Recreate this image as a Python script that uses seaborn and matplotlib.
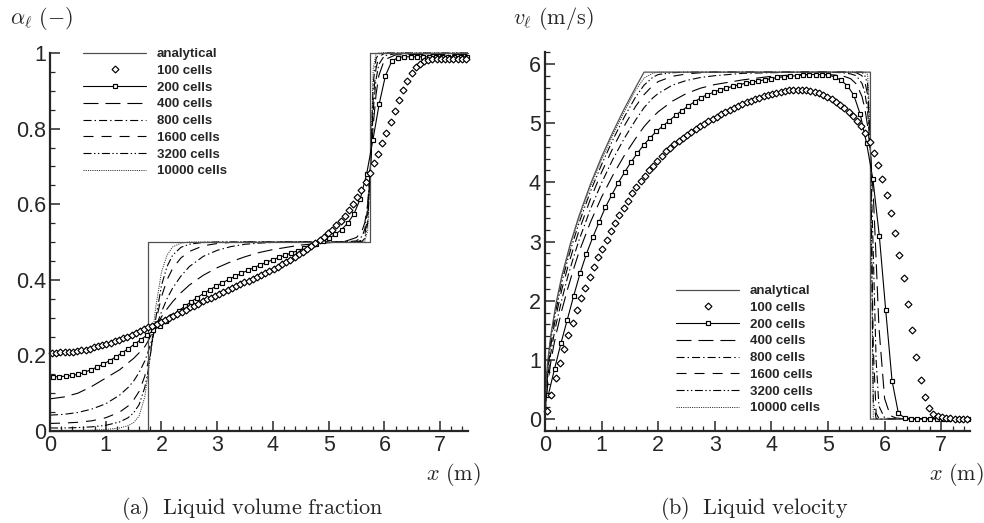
import numpy as np
import pandas as pd
import matplotlib
matplotlib.use("Agg")
import matplotlib.pyplot as plt
import seaborn as sns
from matplotlib.lines import Line2D
from matplotlib.ticker import MultipleLocator, FuncFormatter

# ---------------- data ----------------
labels = ["analytical", "100 cells", "200 cells", "400 cells", "800 cells",
          "1600 cells", "3200 cells", "10000 cells"]

# cell centres of the 100-cell grid and every third centre of the 200-cell grid
x_100 = 0.0375 + 0.075 * np.arange(100)
x_200 = 0.05625 + 0.1125 * np.arange(67)

# ---- (a) liquid volume fraction ----
alpha_exact_x = [0.0, 1.75, 1.75, 5.75, 5.75, 7.5]
alpha_exact = [0.0, 0.0, 0.5, 0.5, 1.0, 1.0]

alpha_100 = [0.207, 0.207, 0.208, 0.208, 0.209, 0.210, 0.211, 0.213, 0.215, 0.218,
             0.221, 0.224, 0.227, 0.230, 0.234, 0.238, 0.242, 0.246, 0.250, 0.254,
             0.259, 0.264, 0.269, 0.274, 0.279, 0.284, 0.289, 0.294, 0.299, 0.305,
             0.310, 0.316, 0.321, 0.327, 0.332, 0.337, 0.343, 0.348, 0.353, 0.358,
             0.363, 0.368, 0.373, 0.378, 0.383, 0.388, 0.393, 0.398, 0.403, 0.408,
             0.413, 0.418, 0.424, 0.429, 0.435, 0.441, 0.447, 0.453, 0.460, 0.467,
             0.474, 0.481, 0.489, 0.497, 0.505, 0.514, 0.523, 0.533, 0.544, 0.556,
             0.569, 0.584, 0.600, 0.618, 0.638, 0.660, 0.683, 0.708, 0.734, 0.761,
             0.789, 0.818, 0.847, 0.875, 0.902, 0.926, 0.947, 0.962, 0.972, 0.978,
             0.981, 0.983, 0.984, 0.985, 0.985, 0.985, 0.985, 0.985, 0.985, 0.985]

alpha_200 = [0.143, 0.144, 0.145, 0.147, 0.150, 0.155, 0.162, 0.169, 0.177, 0.186,
             0.196, 0.207, 0.218, 0.230, 0.242, 0.254, 0.266, 0.279, 0.292, 0.305,
             0.318, 0.330, 0.342, 0.353, 0.364, 0.374, 0.383, 0.392, 0.401, 0.409,
             0.417, 0.425, 0.432, 0.439, 0.446, 0.453, 0.459, 0.465, 0.471, 0.477,
             0.483, 0.489, 0.495, 0.502, 0.510, 0.520, 0.533, 0.550, 0.575, 0.615,
             0.680, 0.770, 0.865, 0.940, 0.978, 0.988, 0.990, 0.990, 0.990, 0.990,
             0.990, 0.990, 0.990, 0.990, 0.990, 0.990, 0.990]

x_alpha = [0, 0.25, 0.5, 0.75, 1.0, 1.25, 1.4, 1.5, 1.6, 1.7,
           1.75, 1.8, 1.85, 1.9, 2.0, 2.1, 2.2, 2.35, 2.5, 2.75,
           3.0, 3.25, 3.5, 3.75, 4.0, 4.5, 5.0, 5.3, 5.5, 5.6,
           5.65, 5.7, 5.75, 5.8, 5.85, 5.9, 6.0, 6.2, 6.5, 7.5]
alpha_400 = [0.085, 0.090, 0.100, 0.118, 0.140, 0.162, 0.180, 0.192, 0.207, 0.223,
             0.235, 0.250, 0.264, 0.278, 0.302, 0.323, 0.342, 0.366, 0.386, 0.412,
             0.432, 0.448, 0.461, 0.472, 0.480, 0.492, 0.498, 0.502, 0.512, 0.530,
             0.552, 0.600, 0.700, 0.810, 0.890, 0.940, 0.982, 0.995, 0.996, 0.996]
alpha_800 = [0.042, 0.044, 0.049, 0.058, 0.072, 0.095, 0.115, 0.132, 0.155, 0.185,
             0.205, 0.228, 0.252, 0.275, 0.315, 0.350, 0.378, 0.410, 0.435, 0.462,
             0.478, 0.488, 0.494, 0.497, 0.499, 0.500, 0.500, 0.500, 0.503, 0.515,
             0.535, 0.590, 0.700, 0.850, 0.930, 0.970, 0.993, 0.998, 0.998, 0.998]
alpha_1600 = [0.020, 0.021, 0.023, 0.027, 0.035, 0.050, 0.066, 0.082, 0.105, 0.145,
              0.175, 0.210, 0.250, 0.290, 0.355, 0.400, 0.430, 0.458, 0.475, 0.490,
              0.496, 0.499, 0.500, 0.500, 0.500, 0.500, 0.500, 0.500, 0.500, 0.505,
              0.520, 0.570, 0.700, 0.880, 0.960, 0.990, 0.999, 0.999, 0.999, 0.999]
alpha_3200 = [0.008, 0.008, 0.009, 0.011, 0.015, 0.024, 0.035, 0.048, 0.070, 0.115,
              0.150, 0.200, 0.250, 0.300, 0.385, 0.435, 0.465, 0.486, 0.494, 0.499,
              0.500, 0.500, 0.500, 0.500, 0.500, 0.500, 0.500, 0.500, 0.500, 0.502,
              0.510, 0.550, 0.700, 0.920, 0.985, 0.998, 1.000, 1.000, 1.000, 1.000]
alpha_10000 = [0.001, 0.001, 0.001, 0.002, 0.004, 0.008, 0.014, 0.022, 0.040, 0.090,
               0.140, 0.200, 0.270, 0.330, 0.420, 0.465, 0.487, 0.497, 0.500, 0.500,
               0.500, 0.500, 0.500, 0.500, 0.500, 0.500, 0.500, 0.500, 0.500, 0.500,
               0.502, 0.530, 0.700, 0.960, 0.998, 1.000, 1.000, 1.000, 1.000, 1.000]

# ---- (b) liquid velocity ----
vel_exact_x = [0, 0.02, 0.05, 0.1, 0.2, 0.3, 0.45, 0.6, 0.8, 1.0, 1.2, 1.4, 1.6,
               1.75, 5.75, 5.75, 7.5]
vel_exact = [0, 0.63, 0.99, 1.40, 1.98, 2.43, 2.97, 3.43, 3.96, 4.43, 4.85, 5.24,
             5.60, 5.86, 5.86, 0.0, 0.0]

vel_100 = [0.13, 0.40, 0.70, 0.94, 1.18, 1.42, 1.63, 1.84, 2.04, 2.22,
           2.40, 2.57, 2.73, 2.88, 3.03, 3.17, 3.31, 3.44, 3.57, 3.69,
           3.82, 3.92, 4.02, 4.11, 4.20, 4.28, 4.36, 4.44, 4.52, 4.58,
           4.64, 4.70, 4.75, 4.80, 4.85, 4.90, 4.95, 4.99, 5.03, 5.07,
           5.11, 5.15, 5.19, 5.22, 5.26, 5.29, 5.32, 5.35, 5.38, 5.41,
           5.43, 5.45, 5.47, 5.49, 5.51, 5.52, 5.54, 5.55, 5.55, 5.56,
           5.56, 5.55, 5.54, 5.52, 5.50, 5.47, 5.44, 5.40, 5.35, 5.30,
           5.25, 5.19, 5.12, 5.04, 4.95, 4.83, 4.68, 4.50, 4.29, 4.06,
           3.78, 3.48, 3.15, 2.78, 2.38, 1.95, 1.51, 1.05, 0.66, 0.37,
           0.19, 0.09, 0.05, 0.03, 0.02, 0.015, 0.01, 0.01, 0.01, 0.01]

vel_200 = [0.40, 0.85, 1.28, 1.68, 2.08, 2.46, 2.79, 3.07, 3.33, 3.58,
           3.79, 3.99, 4.17, 4.34, 4.49, 4.63, 4.75, 4.86, 4.95, 5.04,
           5.13, 5.21, 5.29, 5.36, 5.43, 5.48, 5.52, 5.56, 5.59, 5.62,
           5.65, 5.67, 5.69, 5.71, 5.73, 5.75, 5.77, 5.78, 5.79, 5.80,
           5.81, 5.82, 5.82, 5.82, 5.81, 5.78, 5.72, 5.63, 5.47, 5.15,
           4.66, 4.05, 3.10, 1.85, 0.65, 0.10, 0.02, 0.01, 0.01, 0.01,
           0.01, 0.01, 0.01, 0.01, 0.01, 0.01, 0.01]

x_vel = [0, 0.02, 0.05, 0.1, 0.15, 0.2, 0.3, 0.4, 0.5, 0.6,
         0.8, 1.0, 1.2, 1.4, 1.6, 1.75, 1.9, 2.0, 2.25, 2.5,
         2.75, 3.0, 3.5, 4.0, 4.5, 5.0, 5.25, 5.4, 5.5, 5.6,
         5.65, 5.7, 5.75, 5.8, 5.85, 5.9, 6.0, 6.1, 6.2, 6.3,
         6.5, 7.5]
vel_400 = [0.00, 0.30, 0.60, 0.95, 1.22, 1.45, 1.85, 2.20, 2.52, 2.82,
           3.32, 3.75, 4.12, 4.45, 4.74, 4.94, 5.10, 5.19, 5.37, 5.50,
           5.59, 5.65, 5.73, 5.79, 5.82, 5.82, 5.80, 5.75, 5.66, 5.45,
           5.25, 4.95, 4.50, 3.80, 2.70, 1.55, 0.35, 0.06, 0.02, 0.01,
           0.01, 0.01]
vel_800 = [0.00, 0.38, 0.72, 1.10, 1.38, 1.62, 2.03, 2.40, 2.72, 3.02,
           3.54, 3.99, 4.39, 4.74, 5.05, 5.26, 5.42, 5.50, 5.64, 5.72,
           5.77, 5.80, 5.84, 5.85, 5.86, 5.86, 5.85, 5.83, 5.80, 5.67,
           5.52, 5.20, 4.50, 2.80, 1.00, 0.22, 0.02, 0.01, 0.01, 0.01,
           0.01, 0.01]
vel_1600 = [0.00, 0.45, 0.82, 1.22, 1.52, 1.77, 2.20, 2.56, 2.88, 3.18,
            3.71, 4.17, 4.58, 4.95, 5.28, 5.48, 5.63, 5.70, 5.79, 5.83,
            5.85, 5.86, 5.86, 5.86, 5.86, 5.86, 5.86, 5.86, 5.85, 5.80,
            5.70, 5.48, 4.55, 1.20, 0.10, 0.01, 0.00, 0.00, 0.00, 0.00,
            0.00, 0.00]
vel_3200 = [0.00, 0.52, 0.90, 1.31, 1.62, 1.87, 2.32, 2.69, 3.01, 3.31,
            3.84, 4.30, 4.72, 5.10, 5.44, 5.64, 5.77, 5.82, 5.85, 5.86,
            5.86, 5.86, 5.86, 5.86, 5.86, 5.86, 5.86, 5.86, 5.86, 5.86,
            5.80, 5.66, 4.60, 0.30, 0.01, 0.00, 0.00, 0.00, 0.00, 0.00,
            0.00, 0.00]
vel_10000 = [0.00, 0.58, 0.96, 1.37, 1.68, 1.94, 2.39, 2.76, 3.09, 3.39,
             3.92, 4.38, 4.80, 5.19, 5.55, 5.76, 5.84, 5.86, 5.86, 5.86,
             5.86, 5.86, 5.86, 5.86, 5.86, 5.86, 5.86, 5.86, 5.86, 5.86,
             5.86, 5.82, 4.80, 0.02, 0.00, 0.00, 0.00, 0.00, 0.00, 0.00,
             0.00, 0.00]

# ---------------- style ----------------
sns.set_style("ticks")
plt.rcParams["font.family"] = ["Liberation Sans", "DejaVu Sans"]
plt.rcParams["mathtext.fontset"] = "cm"
plt.rcParams["lines.scale_dashes"] = False

LW = 0.8
styles = {
    "analytical": dict(color="#505050", linewidth=0.9, linestyle="-"),
    "100 cells": dict(color="black", linestyle="none", marker="D", markersize=3.5,
                      markerfacecolor="white", markeredgecolor="black", markeredgewidth=0.85),
    "200 cells": dict(color="black", linewidth=LW, linestyle="-", marker="s", markersize=3.1,
                      markerfacecolor="white", markeredgecolor="black", markeredgewidth=0.85),
    "400 cells": dict(color="black", linewidth=LW, linestyle=(0, (10.8, 5.0))),
    "800 cells": dict(color="black", linewidth=LW, linestyle=(0, (5.8, 2.2, 1.0, 2.2))),
    "1600 cells": dict(color="black", linewidth=LW, linestyle=(0, (7.2, 5.8))),
    "3200 cells": dict(color="black", linewidth=LW, linestyle=(0, (5.8, 1.8, 1.0, 1.8, 1.0, 1.8))),
    "10000 cells": dict(color="#333333", linewidth=0.7, linestyle=(0, (0.8, 0.8))),
}

fig = plt.figure(figsize=(9.84, 5.23), dpi=100)
W, H = 984.0, 523.0
axA = fig.add_axes([50 / W, 1 - 431 / H, 418 / W, 378 / H])
axV = fig.add_axes([545 / W, 1 - 431 / H, 424.5 / W, 379 / H])

series_a = [(alpha_exact_x, alpha_exact), (x_100, alpha_100), (x_200, alpha_200),
            (x_alpha, alpha_400), (x_alpha, alpha_800), (x_alpha, alpha_1600),
            (x_alpha, alpha_3200), (x_alpha, alpha_10000)]
series_v = [(vel_exact_x, vel_exact), (x_100, vel_100), (x_200, vel_200),
            (x_vel, vel_400), (x_vel, vel_800), (x_vel, vel_1600),
            (x_vel, vel_3200), (x_vel, vel_10000)]

draw_order = [7, 6, 5, 4, 3, 0, 2, 1]
for ax, series in ((axA, series_a), (axV, series_v)):
    for i in draw_order:
        xs, ys = series[i]
        df = pd.DataFrame({"x": np.asarray(xs, float), "y": np.asarray(ys, float)})
        sns.lineplot(data=df, x="x", y="y", ax=ax, sort=False, estimator=None,
                     legend=False, clip_on=False, **styles[labels[i]])
    ax.set_xlabel("")
    ax.set_ylabel("")
    for s in ("top", "right"):
        ax.spines[s].set_visible(False)
    for s in ("left", "bottom"):
        ax.spines[s].set_linewidth(1.6)
    ax.set_xlim(0, 7.5)
    ax.xaxis.set_major_locator(MultipleLocator(1))
    ax.xaxis.set_minor_locator(MultipleLocator(0.2))
    ax.tick_params(which="major", direction="in", length=7, width=1.1,
                   labelsize=15.5, pad=3)
    ax.tick_params(which="minor", direction="in", length=3.5, width=0.9)
    ax.xaxis.set_major_formatter(FuncFormatter(lambda v, p: "%g" % v))
    ax.yaxis.set_major_formatter(FuncFormatter(lambda v, p: "%g" % round(v, 3)))
    ax.set_facecolor("white")

axA.set_ylim(0, 1)
axA.yaxis.set_major_locator(MultipleLocator(0.2))
axA.yaxis.set_minor_locator(MultipleLocator(0.05))

axV.set_ylim(-0.2, 6.2)
axV.set_yticks([0, 1, 2, 3, 4, 5, 6])
axV.set_yticks(np.round(np.arange(0, 6.21, 0.2), 2), minor=True)

# legends
handles = [Line2D([], [], **styles[l]) for l in labels]
leg_kw = dict(loc="upper left", bbox_transform=fig.transFigure, frameon=False,
              handlelength=4.8, handletextpad=0.8, labelspacing=0.34,
              borderpad=0, borderaxespad=0, numpoints=1,
              prop=dict(family="Liberation Sans", weight="bold", size=9.5))
axA.legend(handles, labels, bbox_to_anchor=(83 / W, 1 - 48 / H), **leg_kw)
axV.legend(handles, labels, bbox_to_anchor=(676 / W, 1 - 285 / H), **leg_kw)

# axis titles and captions
fig.text(10 / W, 1 - 18 / H, r"$\alpha_\ell\ (-)$", fontsize=16, ha="left", va="center")
fig.text(513 / W, 1 - 18 / H, r"$v_\ell\ (\mathrm{m/s})$", fontsize=16, ha="left", va="center")
fig.text(481 / W, 1 - 474 / H, r"$x\ (\mathrm{m})$", fontsize=16, ha="right", va="center")
fig.text(984 / W, 1 - 474 / H, r"$x\ (\mathrm{m})$", fontsize=16, ha="right", va="center")
fig.text(252 / W, 1 - 508 / H, r"$\mathrm{(a)\ \ Liquid\ volume\ fraction}$",
         fontsize=16, ha="center", va="center")
fig.text(754 / W, 1 - 508 / H, r"$\mathrm{(b)\ \ Liquid\ velocity}$",
         fontsize=16, ha="center", va="center")

fig.savefig("out.png", dpi=100, facecolor="white")
